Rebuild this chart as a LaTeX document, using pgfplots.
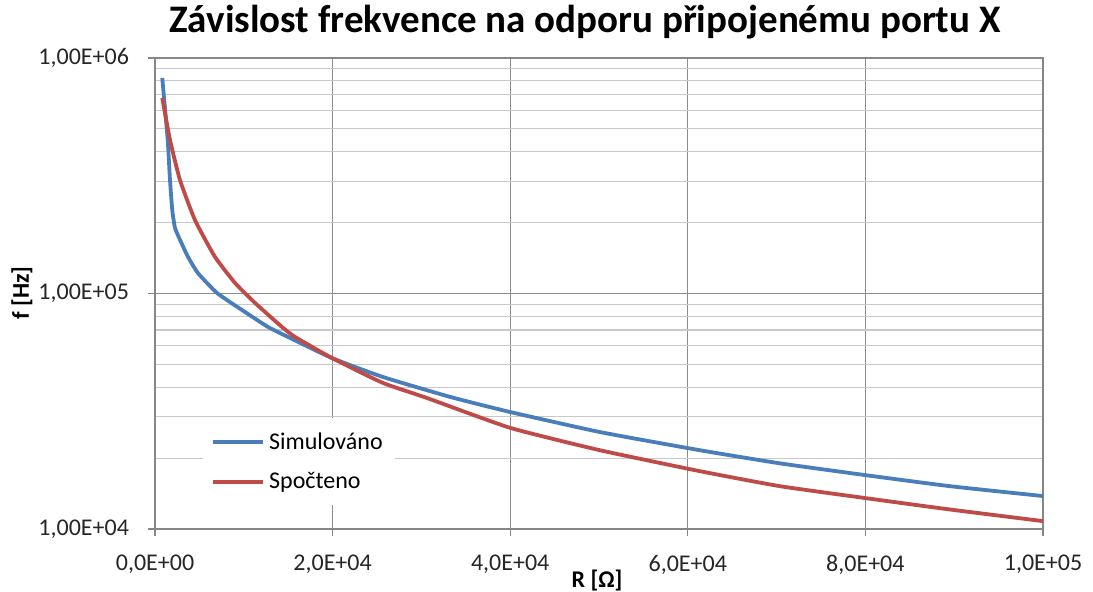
\documentclass[border=0pt]{standalone}
\usepackage{pgfplots}
\pgfplotsset{compat=1.18}
\usepackage{fontspec}
\setmainfont{Carlito}

\definecolor{simblue}{HTML}{4A7EBB}
\definecolor{calcred}{HTML}{BE4B48}
\definecolor{axisgray}{HTML}{868686}
\definecolor{gridgray}{HTML}{8C8C8C}
\definecolor{minorgray}{HTML}{C8C8C8}

\begin{document}
\begin{tikzpicture}
% picture frame: 1 px of the reference = 0.5 pt
\useasboundingbox (-77.5pt,-31pt) rectangle (469pt,264.5pt);
\begin{axis}[
    at={(0,0)}, anchor=south west,
    scale only axis,
    width=444pt, height=235.5pt,
    xmin=0, xmax=100000,
    ymin=10000, ymax=1000000,
    ymode=log,
    log basis y=10,
    xtick={0,20000,40000,60000,80000,100000},
    xticklabels={{0,0E+00},{2,0E+04},{4,0E+04},{6,0E+04},{8,0E+04},{1,0E+05}},
    ytick={10000,100000,1000000},
    yticklabels={{1,00E+04},{1,00E+05},{1,00E+06}},
    minor ytick={20000,30000,40000,50000,60000,70000,80000,90000,
                 200000,300000,400000,500000,600000,700000,800000,900000},
    scaled x ticks=false,
    xtick pos=bottom, ytick pos=left,
    tick align=outside,
    major tick length=3.5pt,
    minor tick length=0pt,
    tick style={axisgray, line width=0.6pt},
    axis line style={axisgray, line width=0.6pt},
    xmajorgrids=true,
    ymajorgrids=true,
    yminorgrids=true,
    major grid style={gridgray, line width=0.6pt},
    minor grid style={minorgray, line width=0.6pt},
    ticklabel style={font=\fontsize{12}{14}\selectfont, text=black!85},
    xticklabel style={yshift=-6pt},
    yticklabel style={xshift=-6pt},
    legend style={draw=none, fill=white,
        at={(0.054,0.2357)}, anchor=north west,
        font=\fontsize{12}{14}\selectfont,
        inner xsep=4pt, inner ysep=5pt,
        row sep=6pt},
    legend cell align=left,
    legend image code/.code={\draw[#1] (0pt,0pt) -- (25pt,0pt);},
]
% Simulovano
\addplot[simblue, line width=1.9pt, smooth, tension=0.3] coordinates {
    (820,822000) (1430,449000) (1689,303000) (1950,225000) (2250,190000)
    (2815,169000) (3716,143000) (4842,122000) (6981,100500) (9796,85100)
    (12724,72100) (14976,65400) (19930,53200) (25673,44200) (33217,36400)
    (39973,31400) (50107,25800) (61367,21600) (70375,19000) (80171,16900)
    (89517,15200) (100000,13800)
};
\addlegendentry{Simulováno}
% Spocteno
\addplot[calcred, line width=1.9pt, smooth, tension=0.3] coordinates {
    (820,676000) (1689,449000) (2815,303000) (4504,205000) (6756,143000)
    (9008,110900) (11260,91200) (14300,72100) (15764,65400) (19930,53200)
    (25673,41700) (30627,36000) (39973,26900) (50107,21600) (61367,17600)
    (70375,15200) (80171,13500) (89517,12100) (100000,10800)
};
\addlegendentry{Spočteno}
\end{axis}
\node[font=\fontsize{19.5}{22}\selectfont\bfseries, anchor=base] at (215pt,248.5pt)
    {Závislost frekvence na odporu připojenému portu X};
\node[font=\fontsize{12}{14}\selectfont\bfseries, rotate=90] at (-66.5pt,118pt) {f [Hz]};
\node[font=\fontsize{12}{14}\selectfont\bfseries, anchor=base] at (221pt,-29pt) {R [Ω]};
\end{tikzpicture}
\end{document}
